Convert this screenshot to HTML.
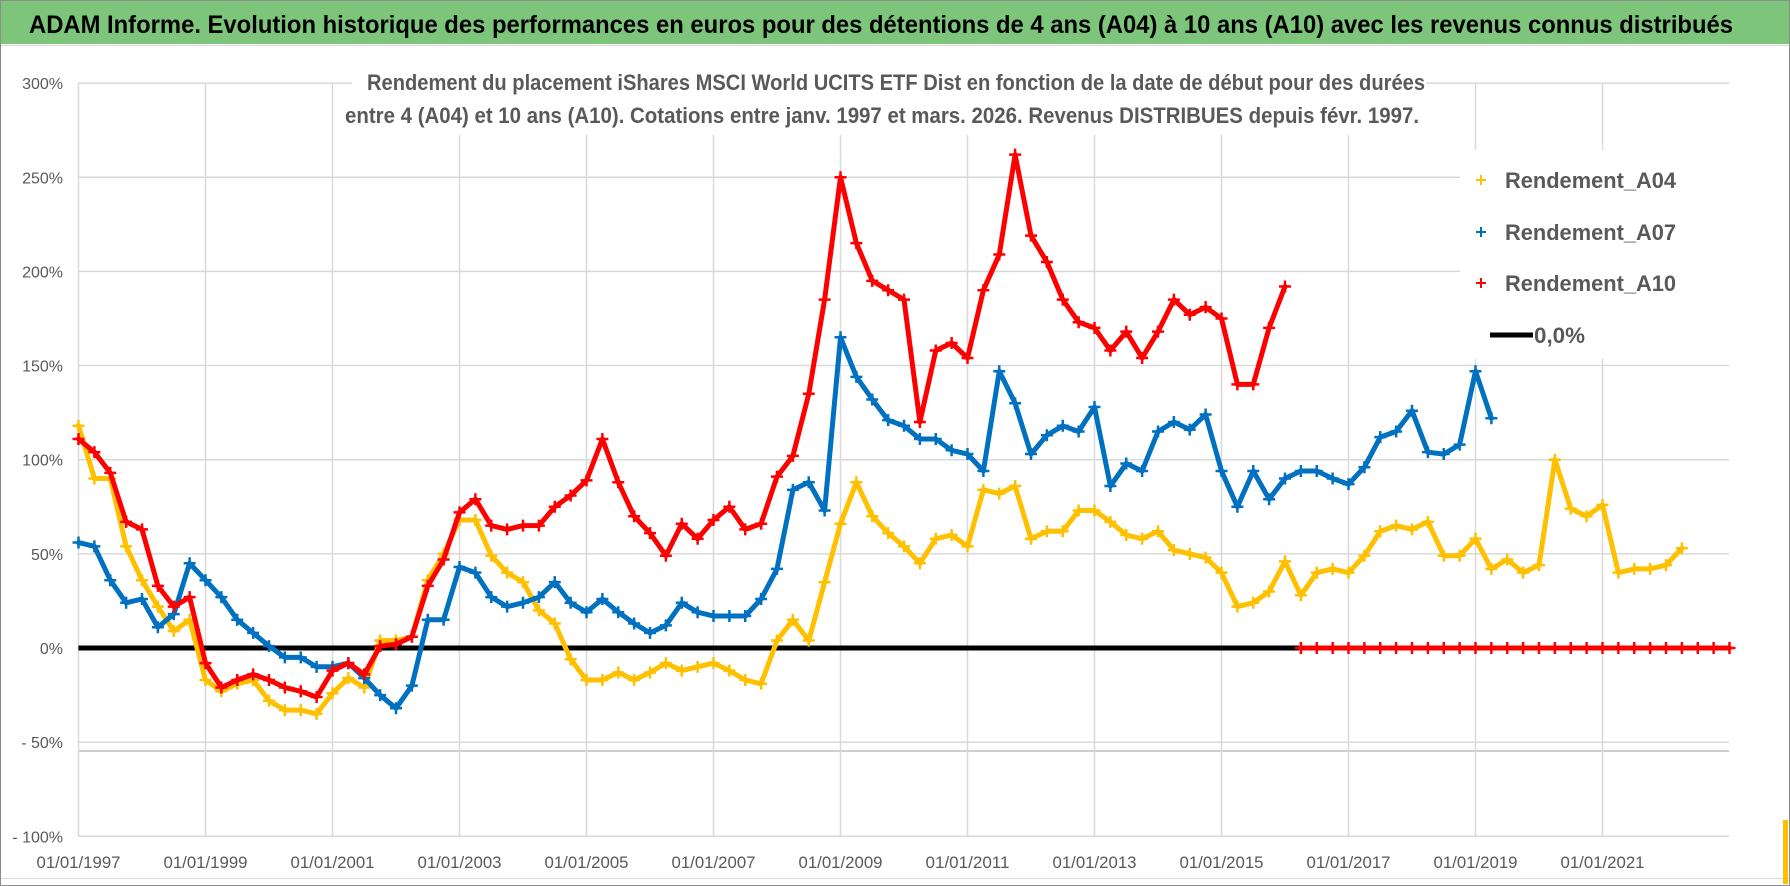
<!DOCTYPE html>
<html><head><meta charset="utf-8">
<style>
html,body{margin:0;padding:0;background:#fff;}
svg{display:block;font-family:"Liberation Sans",sans-serif;}
</style></head>
<body>
<svg id="chart" width="1790" height="886" viewBox="0 0 1790 886">
  <rect x="0" y="0" width="1790" height="886" fill="#fff"/>
  <rect x="0" y="0" width="1790" height="44" fill="#7dc57b"/>
  <line x1="0" y1="45.5" x2="1790" y2="45.5" stroke="#d9d9d9" stroke-width="1"/>
  <text x="29" y="33" font-size="25" font-weight="bold" fill="#000" textLength="1704" lengthAdjust="spacingAndGlyphs">ADAM Informe. Evolution historique des performances en euros pour des détentions de 4 ans (A04) à 10 ans (A10) avec les revenus connus distribués</text>
  <g id="grid"></g>
  <g id="axes"></g>
  <rect x="352" y="58" width="1074" height="77" fill="#fff"/>
  <text x="367" y="90" font-size="22" font-weight="bold" fill="#595959" textLength="1058" lengthAdjust="spacingAndGlyphs">Rendement du placement iShares MSCI World UCITS ETF Dist en fonction de la date de début pour des durées</text>
  <text x="345" y="123" font-size="22" font-weight="bold" fill="#595959" textLength="1074" lengthAdjust="spacingAndGlyphs">entre 4 (A04) et 10 ans (A10).  Cotations entre janv. 1997 et mars. 2026. Revenus DISTRIBUES depuis févr. 1997.</text>
  <g id="series"></g>
  <g id="legend">
    <rect x="1460" y="150" width="269" height="209" fill="#fff"/>
    <g>
      <path d="M1476 180h10M1481 175v10" stroke="#ffc000" stroke-width="2"/>
      <text x="1505" y="188" font-size="22" font-weight="bold" fill="#595959" textLength="171" lengthAdjust="spacingAndGlyphs">Rendement_A04</text>
    </g>
    <g>
      <path d="M1476 232h10M1481 227v10" stroke="#0070c0" stroke-width="2"/>
      <text x="1505" y="240" font-size="22" font-weight="bold" fill="#595959" textLength="171" lengthAdjust="spacingAndGlyphs">Rendement_A07</text>
    </g>
    <g>
      <path d="M1476 283h10M1481 278v10" stroke="#ff0000" stroke-width="2"/>
      <text x="1505" y="291" font-size="22" font-weight="bold" fill="#595959" textLength="171" lengthAdjust="spacingAndGlyphs">Rendement_A10</text>
    </g>
    <g>
      <line x1="1490" y1="335" x2="1533" y2="335" stroke="#000" stroke-width="5"/>
      <text x="1534" y="343" font-size="22" font-weight="bold" fill="#595959" textLength="51" lengthAdjust="spacingAndGlyphs">0,0%</text>
    </g>
  </g>
  <line x1="0" y1="878.5" x2="1790" y2="878.5" stroke="#d9d9d9" stroke-width="1"/>
  <rect x="0.5" y="0.5" width="1789" height="885" fill="none" stroke="#8c8c8c" stroke-width="1"/>
  <rect x="1783" y="820" width="5" height="64" fill="#ffc000"/>
</svg>
<script>
// ---- data (quarterly values, %, starting at given decimal year) ----
const startA04 = 1997.0;
const valuesA04 = [118,90,90,54, 36,22,9,15, -17,-23,-19,-17, -28,-33,-33,-35, -24,-16,-21,4, 4,6,36,50, 68,68,49,40, 35,20,13,-6, -17,-17,-13,-17, -13,-8,-12,-10, -8,-12,-17,-19, 4,15,4,35, 66,88,70,61, 54,45,58,60, 54,84,82,86, 58,62,62,73, 73,67,60,58, 62,52,50,48, 40,22,24,30, 46,28,40,42, 40,49,62,65, 63,67,49,49, 58,42,47,40, 44,100,74,70, 76,40,42,42, 44,53];
const startA07 = 1997.0;
const valuesA07 = [56,54,36,24, 26,11,18,45, 36,27,15,8, 1,-5,-5,-10, -10,-8,-16,-25, -32,-20,15,15, 43,40,27,22, 24,27,35,24, 19,26,19,13, 8,12,24,19, 17,17,17,26, 42,84,88,73, 165,144,132,121, 118,111,111,105, 103,94,147,130, 103,113,118,115, 128,86,98,94, 115,120,116,124, 94,75,94,79, 90,94,94,90, 87,96,112,115, 126,104,103,108, 147,122];
const startA10 = 1997.0;
const valuesA10 = [111,104,93,67, 63,33,22,27, -8,-21,-17,-14, -17,-21,-23,-26, -12,-8,-14,1, 2,6,33,47, 72,79,65,63, 65,65,75,81, 89,111,88,70, 61,49,66,58, 68,75,63,66, 91,102,135,185, 250,215,195,190, 185,120,158,162, 154,190,209,262, 219,205,185,173, 170,158,168,154, 168,185,177,181, 175,140,140,170, 192];
const startA10zero = 2016.25;
const valuesA10zero = [0,0,0,0, 0,0,0,0, 0,0,0,0, 0,0,0,0, 0,0,0,0, 0,0,0,0, 0,0,0,0];
const yTicks = [300,250,200,150,100,50,0,-50,-100];
const yTickLabels = ["300%","250%","200%","150%","100%","50%","0%","- 50%","- 100%"];
const xTickYears = [1997,1999,2001,2003,2005,2007,2009,2011,2013,2015,2017,2019,2021];
const xTickLabels = ["01/01/1997","01/01/1999","01/01/2001","01/01/2003","01/01/2005","01/01/2007","01/01/2009","01/01/2011","01/01/2013","01/01/2015","01/01/2017","01/01/2019","01/01/2021"];
const zeroLineEnd = 2016.22;

// ---- scales ----
const X0 = 78.5, PXY = 63.5, XR = 1729;
function xs(t){ return X0 + (t-1997)*PXY; }
function ys(v){ return 648 - v*1.883; }
const NS = "http://www.w3.org/2000/svg";
function mk(tag, attrs, parent){ const e=document.createElementNS(NS,tag); for(const k in attrs) e.setAttribute(k,attrs[k]); parent.appendChild(e); return e; }

const grid = document.getElementById('grid');
const axes = document.getElementById('axes');
yTicks.forEach((v,i)=>{
  const y = ys(v);
  const l = mk('line',{x1:X0,y1:y,x2:XR,y2:y,stroke:'#d9d9d9','stroke-width':1.5},grid);
  
  
  const t = mk('text',{x:63,y:y+6,'font-size':16,fill:'#595959','text-anchor':'end'},axes);
  t.textContent = yTickLabels[i];
  
  
});
const extra = mk('line',{x1:X0,y1:751,x2:XR,y2:751,stroke:'#bfbfbf','stroke-width':1.5},grid);


xTickYears.forEach((yr,i)=>{
  const x = xs(yr);
  const l = mk('line',{x1:x,y1:ys(300),x2:x,y2:ys(-100),stroke:'#d9d9d9','stroke-width':1.5},grid);
  
  
  const t = mk('text',{x:x,y:868,'font-size':17,fill:'#595959','text-anchor':'middle',textLength:84,lengthAdjust:'spacingAndGlyphs'},axes);
  t.textContent = xTickLabels[i];
  
  
});

const layer = document.getElementById('series');
const zl = mk('line',{x1:X0,y1:ys(0),x2:xs(zeroLineEnd),y2:ys(0),stroke:'#000','stroke-width':5},layer);



function drawSeries(start, vals, color, name){
  const g = mk('g',{},layer);
  
  
  const pts = vals.map((v,i)=>xs(start+i*0.25).toFixed(1)+','+ys(v).toFixed(1)).join(' ');
  const pl = mk('polyline',{points:pts,fill:'none',stroke:color,'stroke-width':5,'stroke-linejoin':'round','stroke-linecap':'round'},g);
  
  
  vals.forEach((v,i)=>{
    const x = xs(start+i*0.25), y = ys(v);
    const p = mk('path',{d:`M${x-6} ${y}h12M${x} ${y-6}v12`,stroke:color,'stroke-width':2.5},g);
    
    
  });
}
drawSeries(startA04, valuesA04, '#ffc000', 'series-a04');
drawSeries(startA07, valuesA07, '#0070c0', 'series-a07');
drawSeries(startA10, valuesA10, '#ff0000', 'series-a10');
drawSeries(startA10zero, valuesA10zero, '#ff0000', 'series-a10-zero');
document.getElementById('chart').insertBefore(layer, document.getElementById('legend'));
</script>
</body></html>
